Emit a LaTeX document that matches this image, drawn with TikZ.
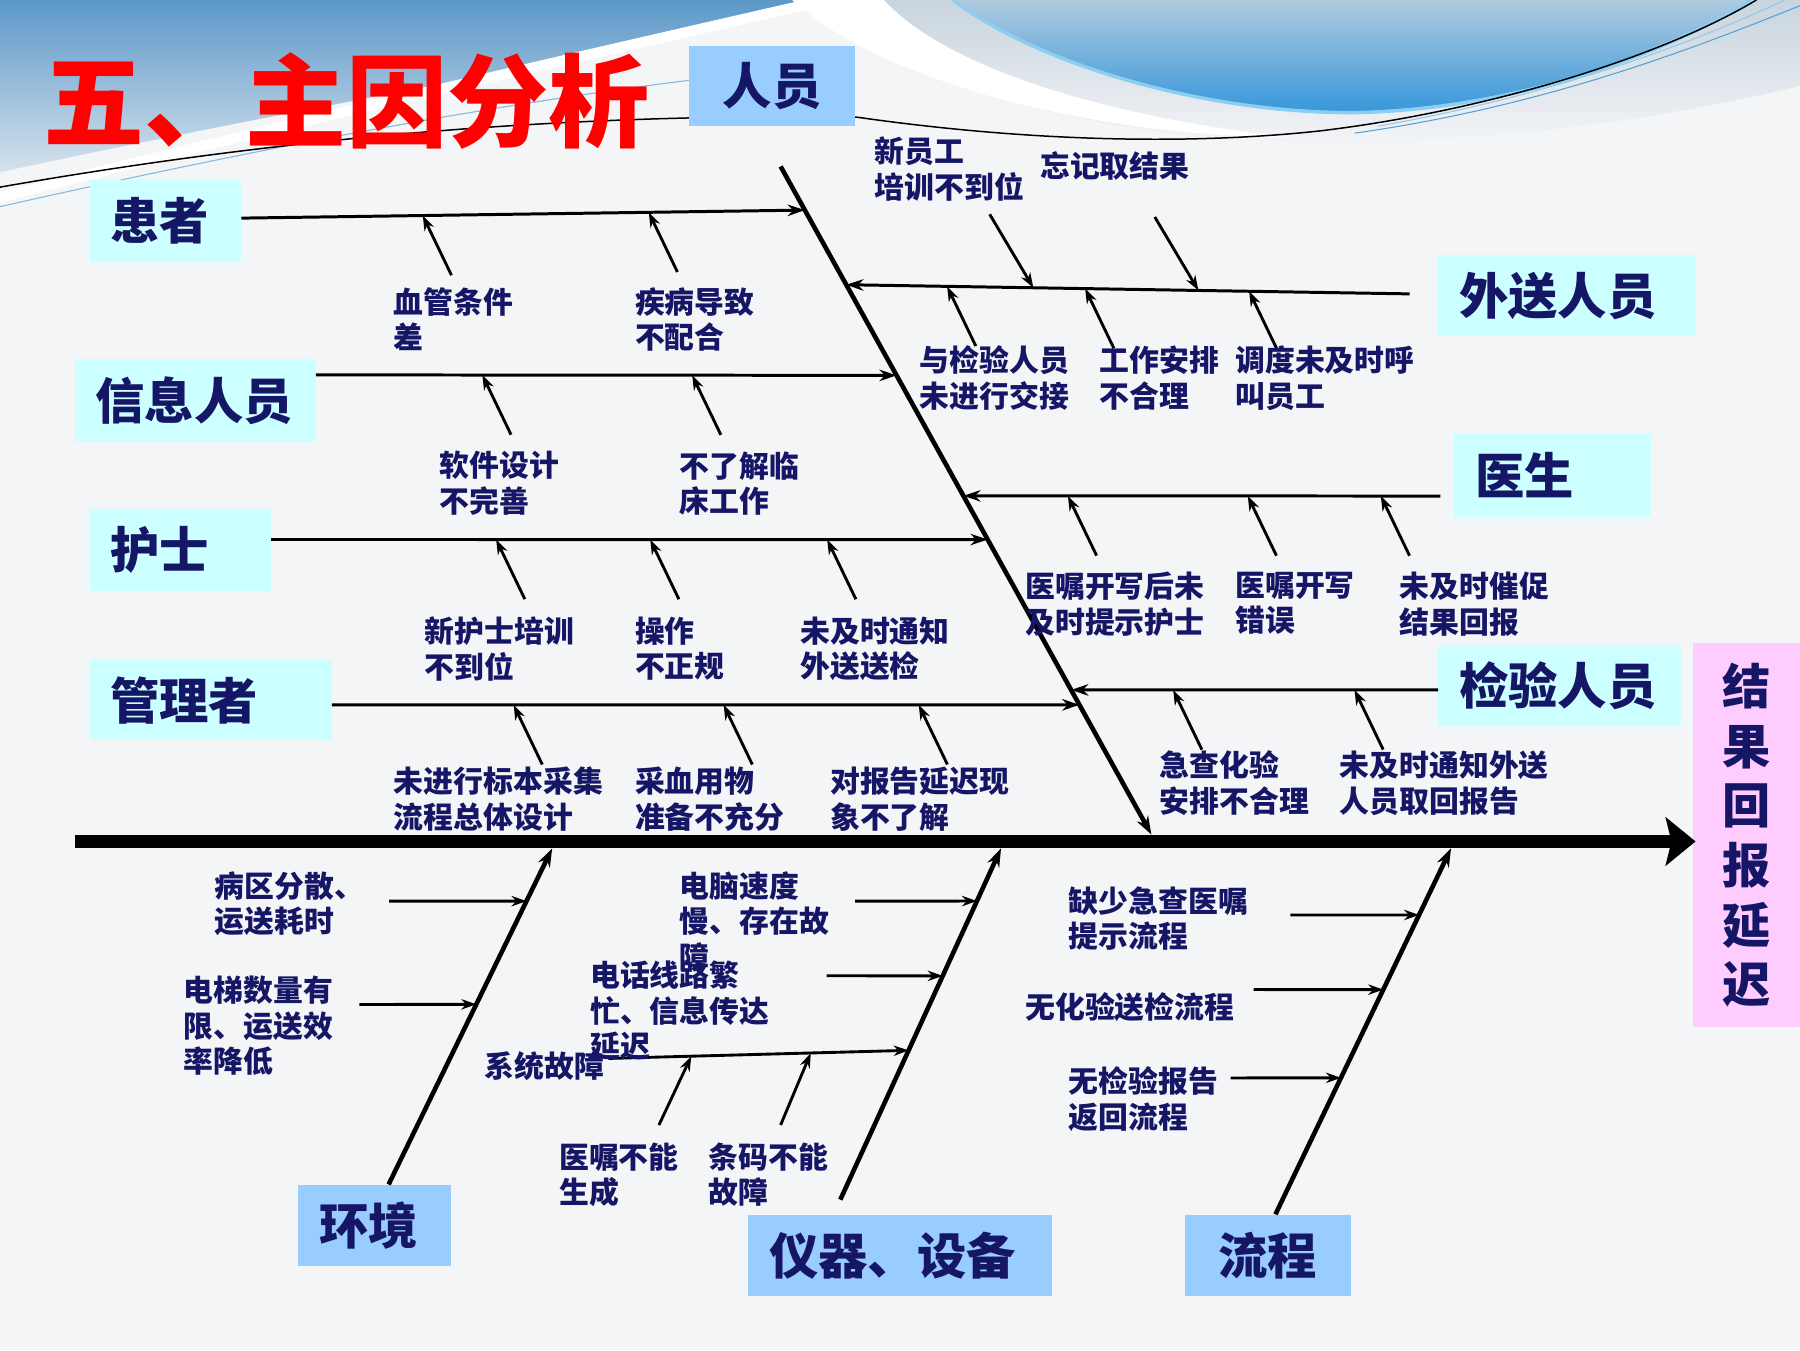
\documentclass[tikz,border=0pt]{standalone}
\usepackage{fontspec}
\setmainfont{Noto Sans CJK SC}
\usetikzlibrary{arrows.meta,calc}
\definecolor{navy}{RGB}{22,22,102}
\definecolor{cyanbox}{RGB}{204,255,255}
\definecolor{bluebox}{RGB}{153,204,255}
\definecolor{pinkbox}{RGB}{255,204,255}
\definecolor{bgcol}{RGB}{244,245,247}
\definecolor{bandtop}{RGB}{92,152,200}
\definecolor{bandbot}{RGB}{214,226,236}
\definecolor{lenstop}{RGB}{176,202,222}
\definecolor{lensbot}{RGB}{52,150,218}
\definecolor{lensedge}{RGB}{140,206,242}
\definecolor{greyband}{RGB}{200,212,222}
\definecolor{thinblue}{RGB}{80,160,215}
\tikzset{
  catbox/.style={fill=cyanbox, text=navy, font=\bfseries\fontsize{43}{48}\selectfont, inner sep=0pt, anchor=center},
  lefttext/.style={text width=#1, inner xsep=18pt, align=left},
  botbox/.style={catbox, fill=bluebox},
  lbl/.style={text=navy, font=\bfseries\fontsize{26}{31}\selectfont, align=left, anchor=north west, inner sep=0pt},
  spine/.style={line width=12pt, -{Stealth[length=26pt,width=42pt,inset=5pt]}},
  bone/.style={line width=4pt, -{Stealth[length=16pt,width=11pt]}},
  branch/.style={line width=2.6pt, -{Stealth[length=15pt,width=10pt]}},
  cause/.style={line width=2.5pt, -{Stealth[length=13pt,width=9pt]}},
}
\begin{document}
\begin{tikzpicture}[x=1pt,y=-1pt]
\useasboundingbox (0,0) rectangle (1568,1176);
% ---------- background ----------
\fill[bgcol] (0,0) rectangle (1568,1176);
\shade[top color=bandtop, bottom color=bandbot] (0,0) -- (730,0) .. controls (560,45) and (300,85) .. (0,150) -- cycle;
\draw[white, line width=9pt] (0,172) .. controls (230,112) and (480,55) .. (720,0);
\draw[thinblue!70, line width=1pt] (0,180) .. controls (200,135) and (400,95) .. (600,70);
\shade[top color=greyband, bottom color=bgcol] (700,0) -- (1568,0) -- (1568,75) .. controls (1420,110) and (1260,128) .. (1120,124) .. controls (950,118) and (790,75) .. (700,0) -- cycle;
\fill[white] (690,0) .. controls (770,72) and (950,118) .. (1125,120) .. controls (950,100) and (820,55) .. (770,0) -- cycle;
\shade[top color=lenstop, bottom color=lensbot] (830,0) .. controls (910,60) and (1060,100) .. (1185,98) .. controls (1330,94) and (1460,42) .. (1525,0) -- cycle;
\draw[lensedge, line width=3pt] (830,0) .. controls (910,60) and (1060,100) .. (1185,98) .. controls (1330,94) and (1460,42) .. (1525,0);
\draw[black, line width=1.3pt] (0,163) .. controls (200,128) and (450,98) .. (746,102) .. controls (900,124) and (1040,126) .. (1150,114) .. controls (1300,96) and (1450,48) .. (1530,0);
\draw[thinblue, line width=0.9pt] (1180,116) .. controls (1350,92) and (1480,40) .. (1568,5);
\draw[thinblue!60, line width=0.9pt] (1200,110) .. controls (1370,80) and (1490,30) .. (1555,0);
% ---------- title ----------
\node[text=red, font=\bfseries\fontsize{88}{88}\selectfont, anchor=west, inner sep=0pt] (title) at (38,88) {五、主因分析};
% ---------- boxes ----------
\node[catbox, minimum width=132pt, minimum height=71pt, lefttext=96pt] (hz) at (144,192.5) {患者};
\node[catbox, minimum width=210pt, minimum height=72pt, lefttext=174pt] (xx) at (170,349) {信息人员};
\node[catbox, minimum width=158pt, minimum height=72pt, lefttext=122pt] (hs) at (157,479) {护士};
\node[catbox, minimum width=211pt, minimum height=70pt, lefttext=175pt] (gl) at (183.5,610) {管理者};
\node[catbox, minimum width=224pt, minimum height=71pt, lefttext=188pt] (ws) at (1365,257.5) {外送人员};
\node[catbox, minimum width=171pt, minimum height=72pt, lefttext=135pt] (ys) at (1352.5,414) {医生};
\node[catbox, minimum width=211pt, minimum height=70pt, lefttext=175pt] (jy) at (1358.5,597) {检验人员};
\node[botbox, minimum width=145pt, minimum height=70pt] (ry) at (672.5,75) {人员};
\node[botbox, minimum width=133pt, minimum height=71pt, lefttext=97pt] (hj) at (326.5,1067.5) {环境};
\node[botbox, minimum width=264pt, minimum height=71pt, lefttext=228pt] (yq) at (784,1093.5) {仪器、设备};
\node[botbox, minimum width=145pt, minimum height=71pt] (lc) at (1104.5,1093.5) {流程};
\node[fill=pinkbox, minimum width=93pt, minimum height=335pt, inner sep=0pt, text=navy, align=center, font=\bfseries\fontsize{42}{52}\selectfont] (jg) at (1521.5,727.5) {结\\果\\回\\报\\延\\迟};
% ---------- spine and main bones ----------
\coordinate (spL) at (65,733);
\coordinate (spR) at (1477,733);
\draw[spine] (spL) -- (spR);
\coordinate (d1) at (680,145);
\coordinate (d2) at (1003,727);
\draw[bone] (d1) -- (d2);
\coordinate (hjT) at ($(hj.north west)!0.59!(hj.north east)$);
\coordinate (hjB) at (481,739);
\draw[bone] (hjT) -- (hjB);
\coordinate (yqT) at (732,1045);
\coordinate (yqB) at (872,739);
\draw[bone] (yqT) -- (yqB);
\coordinate (lcT) at ($(lc.north west)!0.545!(lc.north east)$);
\coordinate (lcB) at (1264,739);
\draw[bone] (lcT) -- (lcB);
% ---------- branches onto the diagonal bone ----------
\coordinate (j1) at ($(d1)!0.0653!(d2)$);
\coordinate (j2) at ($(d1)!0.3127!(d2)$);
\coordinate (j3) at ($(d1)!0.5584!(d2)$);
\coordinate (j4) at ($(d1)!0.8058!(d2)$);
\coordinate (k1) at ($(d1)!0.177!(d2)$);
\coordinate (k2) at ($(d1)!0.493!(d2)$);
\coordinate (k3) at ($(d1)!0.7835!(d2)$);
\coordinate (hzS) at ($(hz.north east)!0.465!(hz.south east)$);
\coordinate (xxS) at ($(xx.north east)!0.19!(xx.south east)$);
\coordinate (hsS) at ($(hs.north east)!0.375!(hs.south east)$);
\coordinate (glS) at ($(gl.north east)!0.557!(gl.south east)$);
\coordinate (wsE) at (1228,256);
\coordinate (ysE) at ($(ys.north west)!0.75!(ys.south west)+(-12,0)$);
\coordinate (jyE) at ($(jy.north west)!0.557!(jy.south west)$);
\draw[branch] (hzS) -- (j1);
\draw[branch] (xxS) -- (j2);
\draw[branch] (hsS) -- (j3);
\draw[branch] (glS) -- (j4);
\draw[branch] (wsE) -- (k1);
\draw[branch] (ysE) -- (k2);
\draw[branch] (jyE) -- (k3);
% ---------- cause arrows from below ----------
\foreach \nm/\a/\b/\t in {p1/hzS/j1/0.322, p2/hzS/j1/0.723,
  p3/xxS/j2/0.2866, p4/xxS/j2/0.648,
  p5/hsS/j3/0.314, p6/hsS/j3/0.529, p7/hsS/j3/0.776,
  p8/glS/j4/0.243, p9/glS/j4/0.524, p10/glS/j4/0.785,
  q1/k1/wsE/0.179, q2/k1/wsE/0.424, q3/k1/wsE/0.715,
  q4/k2/ysE/0.219, q5/k2/ysE/0.596, q6/k2/ysE/0.875,
  q7/k3/jyE/0.278, q8/k3/jyE/0.772}{
  \coordinate (\nm-t) at ($(\a)!\t!(\b)$);
  \coordinate (\nm-s) at ($(\nm-t)+(25,52)$);
  \draw[cause] (\nm-s) -- (\nm-t);
}
% ---------- cause arrows from above ----------
\foreach \nm/\t in {r1/0.332, r2/0.625}{
  \coordinate (\nm-t) at ($(k1)!\t!(wsE)$);
  \coordinate (\nm-s) at ($(\nm-t)+(-38,-64)$);
  \draw[cause] (\nm-s) -- (\nm-t);
}
% ---------- arrows onto the lower bones ----------
\foreach \nm/\sx/\sy/\a/\b/\t in {e1/339/785/hjT/hjB/0.843, e2/313/875/hjT/hjB/0.536,
  f1/745/785/yqT/yqB/0.850, f2/720/850/yqT/yqB/0.637, f3/530/922/yqT/yqB/0.425,
  g1/1124/797/lcT/lcB/0.818, g2/1092/862/lcT/lcB/0.614, g3/1072/939/lcT/lcB/0.373}{
  \coordinate (\nm-s) at (\sx,\sy);
  \coordinate (\nm-t) at ($(\a)!\t!(\b)$);
  \draw[cause] (\nm-s) -- (\nm-t);
}
\foreach \nm/\t/\sx in {h1/0.276/574, h2/0.674/680}{
  \coordinate (\nm-t) at ($(f3-s)!\t!(f3-t)$);
  \coordinate (\nm-s) at (\sx,980);
  \draw[cause] (\nm-s) -- (\nm-t);
}
% ---------- labels ----------
\node[lbl] (l1) at (343,250) {血管条件\\差};
\node[lbl] (l2) at (553,250) {疾病导致\\不配合};
\node[lbl] (l3) at (383,393) {软件设计\\不完善};
\node[lbl] (l4) at (592,393) {不了解临\\床工作};
\node[lbl] (l5) at (370,537) {新护士培训\\不到位};
\node[lbl] (l6) at (553,537) {操作\\不正规};
\node[lbl] (l7) at (697,537) {未及时通知\\外送送检};
\node[lbl] (l8) at (343,668) {未进行标本采集\\流程总体设计};
\node[lbl] (l9) at (553,668) {采血用物\\准备不充分};
\node[lbl] (l10) at (723,668) {对报告延迟现\\象不了解};
\node[lbl] (l11) at (762,119) {新员工\\培训不到位};
\node[lbl] (l12) at (906,132) {忘记取结果};
\node[lbl] (l13) at (801,301) {与检验人员\\未进行交接};
\node[lbl] (l14) at (958,301) {工作安排\\不合理};
\node[lbl] (l15) at (1076,301) {调度未及时呼\\叫员工};
\node[lbl] (l16) at (893,498) {医嘱开写后未\\及时提示护士};
\node[lbl] (l17) at (1076,498) {医嘱开写\\错误};
\node[lbl] (l18) at (1219,498) {未及时催促\\结果回报};
\node[lbl] (l19) at (1010,654) {急查化验\\安排不合理};
\node[lbl] (l20) at (1167,654) {未及时通知外送\\人员取回报告};
\node[lbl] (l21) at (187,759) {病区分散、\\运送耗时};
\node[lbl] (l22) at (160,850) {电梯数量有\\限、运送效\\率降低};
\node[lbl] (l23) at (592,759) {电脑速度\\慢、存在故\\障};
\node[lbl] (l24) at (514,837) {电话线路繁\\忙、信息传达\\延迟};
\node[lbl] (l25) at (422,916) {系统故障};
\node[lbl] (l26) at (487,995) {医嘱不能\\生成};
\node[lbl] (l27) at (617,995) {条码不能\\故障};
\node[lbl] (l28) at (931,772) {缺少急查医嘱\\提示流程};
\node[lbl] (l29) at (893,864) {无化验送检流程};
\node[lbl] (l30) at (931,929) {无检验报告\\返回流程};
\end{tikzpicture}
\end{document}
